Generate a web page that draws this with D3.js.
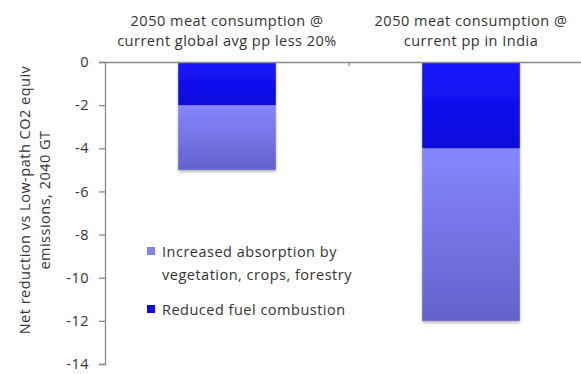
<!DOCTYPE html>
<html>
<head>
<meta charset="utf-8">
<script src="https://cdn.jsdelivr.net/npm/d3@7"></script>
<style>
  html, body { margin: 0; padding: 0; background: #fff; }
  svg { display: block; }
  text { font-family: "Open Sans", sans-serif; fill: #333; letter-spacing: 0.5px; }
</style>
</head>
<body>
<svg id="chart" width="581" height="374"></svg>
<script>
// Scenario categories (two-line headers)
const categories = [
  ["2050 meat consumption @", "current global avg pp less 20%"],
  ["2050 meat consumption @", "current pp in India"]
];
// Stacked components, GT CO2 equiv (negative = reduction)
const fuelCombustion = [-2, -4];
const absorption = [-3, -8];
const seriesNames = ["Increased absorption by\nvegetation, crops, forestry", "Reduced fuel combustion"];
const yTicks = [0, -2, -4, -6, -8, -10, -12, -14];
const yTitle = ["Net reduction vs Low-path CO2 equiv", "emissions, 2040 GT"];

const FS = 14.5;
const svg = d3.select("#chart");
const defs = svg.append("defs");

function vGrad(id, top, bottom) {
  const g = defs.append("linearGradient").attr("id", id)
    .attr("x1", 0).attr("y1", 0).attr("x2", 0).attr("y2", 1);
  g.append("stop").attr("offset", "0%").attr("stop-color", top);
  g.append("stop").attr("offset", "100%").attr("stop-color", bottom);
}
vGrad("gDark", "#1818ff", "#0808dc");
vGrad("gLight", "#8686ff", "#6262cc");

const shadow = defs.append("filter").attr("id", "shadow")
  .attr("x", "-10%").attr("y", "-10%").attr("width", "130%").attr("height", "130%");
shadow.append("feDropShadow").attr("dx", 0).attr("dy", 2)
  .attr("stdDeviation", 1.5).attr("flood-color", "#000").attr("flood-opacity", 0.3);

const plot = { left: 105, right: 593, top: 62, bottom: 364 };

const y = d3.scaleLinear().domain([-14, 0]).range([plot.bottom, plot.top]);
const x = d3.scaleBand().domain(d3.range(categories.length))
  .range([plot.left, plot.right]).padding(0);
const barW = x.bandwidth() * 0.4;

// Bars: dark segment from 0, light segment stacked below it
const bars = svg.append("g");
categories.forEach((c, i) => {
  const cx = x(i) + x.bandwidth() / 2;
  const g = bars.append("g").attr("filter", "url(#shadow)");
  const f = fuelCombustion[i];
  const a = absorption[i];
  g.append("rect")
    .attr("x", cx - barW / 2).attr("width", barW)
    .attr("y", y(f)).attr("height", y(f + a) - y(f))
    .attr("fill", "url(#gLight)");
  g.append("rect")
    .attr("x", cx - barW / 2).attr("width", barW)
    .attr("y", y(0)).attr("height", y(f) - y(0))
    .attr("fill", "url(#gDark)");
});

// Y axis (plain hyphen for negatives)
const yAxis = d3.axisLeft(y).tickValues(yTicks).tickSize(6).tickPadding(10)
  .tickFormat(d => String(d));
const ya = svg.append("g").attr("transform", `translate(${plot.left},0)`).call(yAxis);
ya.select(".domain").attr("stroke", "#8a8a8a").attr("stroke-width", 1.3);
ya.selectAll(".tick line").attr("stroke", "#8a8a8a").attr("stroke-width", 1.3);
ya.selectAll(".tick text").attr("font-size", FS).attr("fill", "#333")
  .attr("font-family", "'Open Sans', sans-serif");

// Category axis along zero line
const xAxis = d3.axisBottom(x).tickValues([]).tickSizeOuter(0);
const xa = svg.append("g").attr("transform", `translate(0,${y(0)})`).call(xAxis);
xa.select(".domain").attr("stroke", "#8a8a8a").attr("stroke-width", 1.3);
// Separator tick between categories
xa.append("line")
  .attr("x1", x(1)).attr("x2", x(1)).attr("y1", 0).attr("y2", 4)
  .attr("stroke", "#8a8a8a").attr("stroke-width", 1.3);

// Category headers
categories.forEach((c, i) => {
  const cx = x(i) + x.bandwidth() / 2;
  c.forEach((line, k) => {
    svg.append("text")
      .attr("x", cx).attr("y", 26 + k * 20)
      .attr("text-anchor", "middle").attr("font-size", FS)
      .text(line);
  });
});

// Y title (two rotated lines)
yTitle.forEach((line, k) => {
  svg.append("text")
    .attr("transform", `translate(${30 + k * 20},200) rotate(-90)`)
    .attr("text-anchor", "middle").attr("font-size", FS)
    .text(line);
});

// Legend
const legend = svg.append("g");
const legendItems = [
  { name: seriesNames[0], fill: "#8282f2", y: 247 },
  { name: seriesNames[1], fill: "#0a0ae6", y: 305 }
];
legendItems.forEach(it => {
  legend.append("rect").attr("x", 147).attr("y", it.y)
    .attr("width", 8).attr("height", 8).attr("fill", it.fill);
  it.name.split("\n").forEach((line, k) => {
    legend.append("text").attr("x", 162).attr("y", it.y + 10 + k * 23)
      .attr("font-size", FS).text(line);
  });
});
</script>
</body>
</html>
